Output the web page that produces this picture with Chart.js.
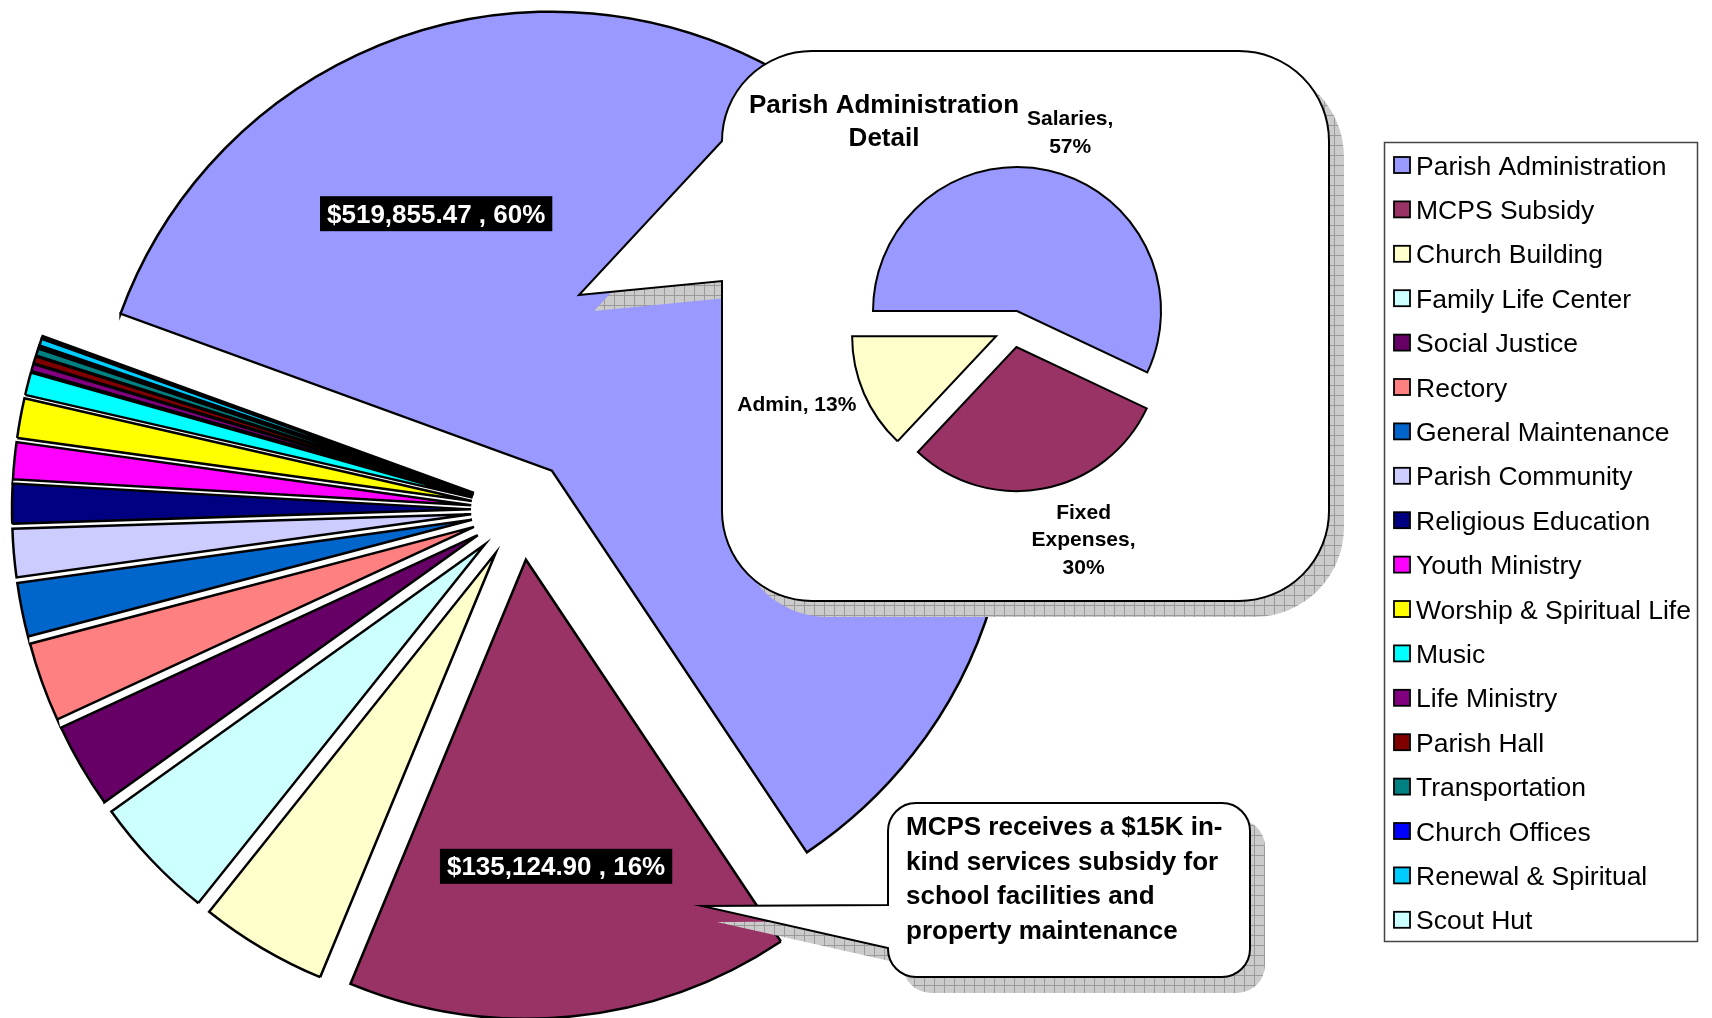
<!DOCTYPE html>
<html>
<head>
<meta charset="utf-8">
<script src="https://cdn.jsdelivr.net/npm/chart.js@4.4.1/dist/chart.umd.min.js"></script>
<style>
  html, body { margin: 0; padding: 0; background: #fff; overflow: hidden; }
  #wrap { position: relative; width: 1712px; height: 1018px; }
  #mainPie { position: absolute; left: 0; top: 0; }
  #detailPie { position: absolute; left: 733px; top: 60px; }
</style>
</head>
<body>
<div id="wrap">
  <canvas id="mainPie" width="1712" height="1018"></canvas>
  <canvas id="detailPie" width="560" height="538"></canvas>
</div>
<script>
// budget categories (legend order = slice order, clockwise)
const CATEGORIES = [
  "Parish Administration", "MCPS Subsidy", "Church Building", "Family Life Center",
  "Social Justice", "Rectory", "General Maintenance", "Parish Community",
  "Religious Education", "Youth Ministry", "Worship & Spiritual Life", "Music",
  "Life Ministry", "Parish Hall", "Transportation", "Church Offices",
  "Renewal & Spiritual", "Scout Hut",
];
const AMOUNTS = [
  519855.47, 135124.90, 38800, 38000,
  25900, 24200, 16400, 14700,
  12100, 11200, 12100, 6900,
  2200, 2200, 2200, 700,
  2100, 700,
];
const COLORS = [
  "#9999FF", "#993366", "#FFFFCC", "#CCFFFF",
  "#660066", "#FF8080", "#0066CC", "#CCCCFF",
  "#000080", "#FF00FF", "#FFFF00", "#00FFFF",
  "#800080", "#800000", "#008080", "#0000FF",
  "#00CCFF", "#CCFFFF",
];
// only these slices carry a value label
const LABELED_SLICES = [0, 1];

// parish administration breakdown
const DETAIL_NAMES = ["Salaries", "Fixed Expenses", "Admin"];
const DETAIL_PERCENTS = [57, 30, 13];
const DETAIL_COLORS = ["#9999FF", "#993366", "#FFFFCC"];
const DETAIL_TITLE = ["Parish Administration", "Detail"];

const MCPS_NOTE = [
  "MCPS receives a $15K in-",
  "kind services subsidy for",
  "school facilities and",
  "property maintenance",
];

const FONT = '"Liberation Sans", Arial, Helvetica, sans-serif';

// push every slice out along its own bisector
const explodePlugin = (distances) => ({
  id: "explode",
  beforeDatasetsDraw(chart) {
    const { left, right, top, bottom } = chart.chartArea;
    const cx = (left + right) / 2;
    const cy = (top + bottom) / 2;
    chart.getDatasetMeta(0).data.forEach((arc, i) => {
      const mid = (arc.startAngle + arc.endAngle) / 2;
      arc.x = cx + Math.cos(mid) * distances[i];
      arc.y = cy + Math.sin(mid) * distances[i];
    });
  },
});

const shadowPattern = (ctx) => {
  const tile = document.createElement("canvas");
  tile.width = 10;
  tile.height = 10;
  const g = tile.getContext("2d");
  g.fillStyle = "#cbcbcb";
  g.fillRect(0, 0, 10, 10);
  g.fillStyle = "#9a9a9a";
  g.fillRect(0, 9, 10, 1);
  g.fillRect(9, 0, 1, 10);
  return ctx.createPattern(tile, "repeat");
};

const calloutPath = (ctx, box, tail) => {
  const { l, t, r, b, rad } = box;
  ctx.beginPath();
  ctx.moveTo(l + rad, t);
  ctx.arcTo(r, t, r, b, rad);
  ctx.arcTo(r, b, l, b, rad);
  ctx.arcTo(l, b, l, t, rad);
  ctx.lineTo(l, tail.lower);
  ctx.lineTo(tail.x, tail.y);
  ctx.lineTo(l, tail.upper);
  ctx.arcTo(l, t, r, t, rad);
  ctx.closePath();
};

const drawCallout = (ctx, box, tail) => {
  ctx.save();
  ctx.translate(15, 16);
  calloutPath(ctx, box, tail);
  ctx.fillStyle = shadowPattern(ctx);
  ctx.fill();
  ctx.restore();
  ctx.save();
  calloutPath(ctx, box, tail);
  ctx.fillStyle = "#fff";
  ctx.fill();
  ctx.lineWidth = 2;
  ctx.strokeStyle = "#000";
  ctx.stroke();
  ctx.restore();
};

const money = (v) =>
  "$" + v.toLocaleString("en-US", { minimumFractionDigits: 2, maximumFractionDigits: 2 });

// label spots: angle (deg, null = bisector) and distance as share of radius
const MAIN_LABEL_SPOTS = { 0: [245.8, 0.615], 1: [null, 0.67] };

const decorPlugin = {
  id: "decor",
  afterDatasetsDraw(chart) {
    const ctx = chart.ctx;
    const arcs = chart.getDatasetMeta(0).data;
    const total = AMOUNTS.reduce((a, b) => a + b, 0);

    // callouts
    drawCallout(ctx, { l: 722, t: 51, r: 1329, b: 601, rad: 90 },
      { x: 579, y: 295, upper: 141, lower: 281 });
    drawCallout(ctx, { l: 888, t: 803, r: 1250, b: 977, rad: 28 },
      { x: 702, y: 906, upper: 905, lower: 948 });

    ctx.save();
    ctx.fillStyle = "#000";
    ctx.font = `bold 26px ${FONT}`;
    ctx.textAlign = "left";
    ctx.textBaseline = "alphabetic";
    MCPS_NOTE.forEach((line, i) => ctx.fillText(line, 906, 835 + i * 34.6));
    ctx.restore();

    // value labels
    ctx.save();
    ctx.font = `bold 26px ${FONT}`;
    ctx.textAlign = "center";
    ctx.textBaseline = "alphabetic";
    LABELED_SLICES.forEach((i) => {
      const arc = arcs[i];
      const [deg, frac] = MAIN_LABEL_SPOTS[i];
      const ang = deg === null ? (arc.startAngle + arc.endAngle) / 2 : (deg * Math.PI) / 180;
      const x = arc.x + Math.cos(ang) * arc.outerRadius * frac;
      const y = arc.y + Math.sin(ang) * arc.outerRadius * frac;
      const text = `${money(AMOUNTS[i])} , ${Math.round((AMOUNTS[i] / total) * 100)}%`;
      const w = ctx.measureText(text).width + 14;
      ctx.fillStyle = "#000";
      ctx.fillRect(x - w / 2, y - 17, w, 35);
      ctx.fillStyle = "#fff";
      ctx.fillText(text, x, y + 9.5);
    });
    ctx.restore();

    // legend
    ctx.save();
    ctx.strokeStyle = "#444";
    ctx.lineWidth = 1.5;
    ctx.strokeRect(1384.5, 142.5, 313, 799);
    ctx.font = `26.5px ${FONT}`;
    ctx.textBaseline = "alphabetic";
    CATEGORIES.forEach((name, i) => {
      const y = 165 + i * 44.4;
      ctx.fillStyle = COLORS[i];
      ctx.fillRect(1394, y - 8, 16, 16);
      ctx.lineWidth = 1.8;
      ctx.strokeStyle = "#000";
      ctx.strokeRect(1394, y - 8, 16, 16);
      ctx.fillStyle = "#000";
      ctx.fillText(name, 1416, y + 9.5);
    });
    ctx.restore();
  },
};

new Chart(document.getElementById("mainPie"), {
  type: "pie",
  data: {
    labels: CATEGORIES,
    datasets: [{
      data: AMOUNTS,
      backgroundColor: COLORS,
      borderColor: "#000",
      borderWidth: 2.5,
      borderJoinStyle: "miter",
    }],
  },
  options: {
    responsive: false,
    animation: false,
    events: [],
    rotation: 290,
    radius: 459,
    layout: { padding: { left: 0, top: 2, right: 670, bottom: 0 } },
    plugins: { legend: { display: false }, tooltip: { enabled: false } },
  },
  plugins: [explodePlugin(AMOUNTS.map(() => 50)), decorPlugin],
});

// detail pie labels: angle from slice tip (deg), distance share of radius, wrapped lines
const DETAIL_LABEL_SPOTS = [
  [286.5, 1.30, 2],
  [70.7, 1.41, 3],
  [161.4, 1.46, 1],
];

const wrapLabel = (text, parts) => {
  const words = text.split(" ");
  if (parts === 1) return [text];
  if (parts === words.length) return words;
  return [words.slice(0, words.length - 1).join(" "), words[words.length - 1]];
};

const detailDecor = {
  id: "detailDecor",
  afterDatasetsDraw(chart) {
    const ctx = chart.ctx;
    const arcs = chart.getDatasetMeta(0).data;
    ctx.save();
    ctx.fillStyle = "#000";
    ctx.textAlign = "center";
    ctx.font = `bold 26px ${FONT}`;
    DETAIL_TITLE.forEach((line, i) => ctx.fillText(line, 151, 53 + i * 33));

    ctx.font = `bold 21px ${FONT}`;
    DETAIL_NAMES.forEach((name, i) => {
      const arc = arcs[i];
      const [deg, frac, parts] = DETAIL_LABEL_SPOTS[i];
      const ang = (deg * Math.PI) / 180;
      const x = arc.x + Math.cos(ang) * arc.outerRadius * frac;
      const y = arc.y + Math.sin(ang) * arc.outerRadius * frac;
      const lines = wrapLabel(`${name}, ${DETAIL_PERCENTS[i]}%`, parts);
      const lh = 27.5;
      const y0 = y - ((lines.length - 1) * lh) / 2;
      lines.forEach((line, k) => ctx.fillText(line, x, y0 + k * lh + 7.5));
    });
    ctx.restore();
  },
};

new Chart(document.getElementById("detailPie"), {
  type: "pie",
  data: {
    labels: DETAIL_NAMES,
    datasets: [{
      data: DETAIL_PERCENTS,
      backgroundColor: DETAIL_COLORS,
      borderColor: "#000",
      borderWidth: 2,
      borderJoinStyle: "miter",
    }],
  },
  options: {
    responsive: false,
    animation: false,
    events: [],
    rotation: 270,
    radius: 144,
    layout: { padding: 0 },
    plugins: { legend: { display: false }, tooltip: { enabled: false } },
  },
  plugins: [explodePlugin(DETAIL_PERCENTS.map(() => 18.4)), detailDecor],
});
</script>
</body>
</html>
